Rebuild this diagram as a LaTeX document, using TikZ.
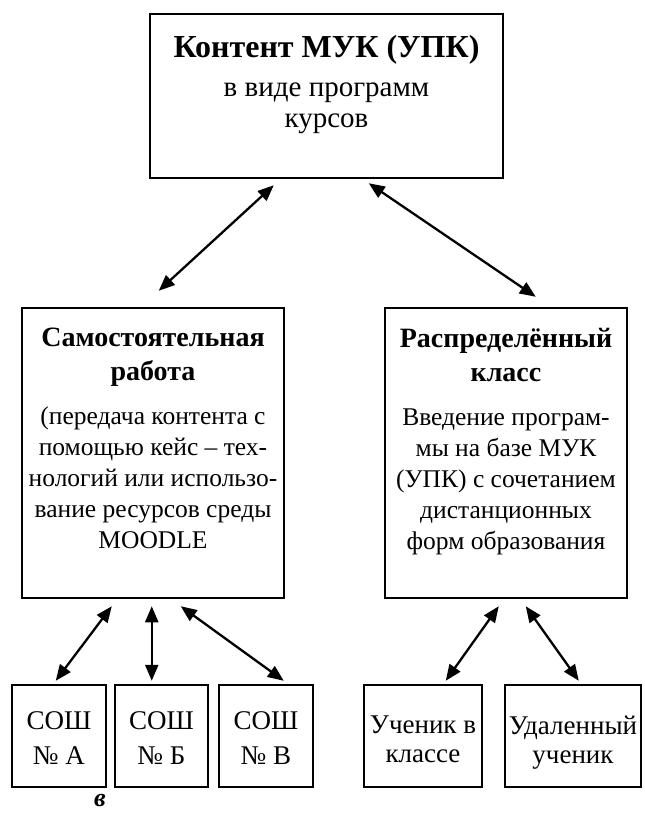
\documentclass[tikz,border=0pt]{standalone}
\usepackage{fontspec}
\setmainfont{Liberation Serif}
\usetikzlibrary{arrows.meta,positioning}
\newcommand{\hd}[1]{{\fontsize{28}{31}\selectfont\bfseries #1}}
\newcommand{\ttl}[1]{{\fontsize{32}{31}\selectfont\bfseries #1}}

\tikzset{
  box/.style={draw, line width=2.5pt, inner sep=0pt},
  txt/.style={align=center, inner sep=0pt, font=\fontsize{25.5}{31}\selectfont},
  bigtxt/.style={txt, font=\fontsize{29}{31}\selectfont},
  leaftxt/.style={txt, font=\fontsize{27}{31}\selectfont},
  link/.style={<->, line width=2.3pt, >={Triangle[length=16pt,width=13pt]}},
}

\begin{document}
\begin{tikzpicture}[x=1pt,y=-1pt]
  \useasboundingbox (0,0) rectangle (645,814);
  % top
  \node[box, minimum width=353pt, minimum height=164pt] (muk) at (326.5,96) {};
  \node[bigtxt, below=22pt of muk.north] (mukt) {\ttl{Контент МУК (УПК)}\\[8pt]в виде программ\\курсов};
  % middle
  \node[box, minimum width=262pt, minimum height=290pt] (sam) at (153,453) {};
  \node[txt, below=21pt of sam.north] (samt) {\hd{Самостоятельная}\\[3pt]\hd{работа}\\[13pt](передача контента с\\помощью кейс -- тех-\\нологий или использо-\\вание ресурсов среды\\MOODLE};
  \node[box, minimum width=242pt, minimum height=290pt] (ras) at (506,453) {};
  \node[txt, below=21pt of ras.north] (rast) {\hd{Распределённый}\\[3pt]\hd{класс}\\[13pt]Введение програм-\\мы на базе МУК\\(УПК) с сочетанием\\дистанционных\\форм образования};
  % bottom
  \node[box, minimum width=94pt, minimum height=102pt] (sha) at (59,736) {};
  \node[leaftxt, below=28pt of sha.north] (shat) {СОШ\\[4pt]№ А};
  \node[box, minimum width=93pt, minimum height=102pt] (shb) at (161.5,736) {};
  \node[leaftxt, below=28pt of shb.north] (shbt) {СОШ\\[4pt]№ Б};
  \node[box, minimum width=94pt, minimum height=102pt] (shc) at (266,736) {};
  \node[leaftxt, below=28pt of shc.north] (shct) {СОШ\\[4pt]№ В};
  \node[box, minimum width=118pt, minimum height=102pt] (uch) at (423,736) {};
  \node[leaftxt, below=32pt of uch.north] (ucht) {Ученик в\\[-2pt]классе};
  \node[box, minimum width=136pt, minimum height=102pt] (udal) at (573,736) {};
  \node[leaftxt, below=32pt of udal.north] (udalt) {Удаленный\\[-2pt]ученик};
  \node (lbl) at (100,800) {\fontsize{26}{28}\selectfont\bfseries\itshape в};
  % links
  \draw[link] ([xshift=125pt,yshift=-6pt]muk.south west) -- ([xshift=138pt,yshift=16pt]sam.north west);
  \draw[link] ([xshift=220pt,yshift=-4pt]muk.south west) -- ([xshift=152pt,yshift=10pt]ras.north west);
  \draw[link] ([xshift=91pt,yshift=-7pt]sam.south west) -- ([xshift=45pt,yshift=3pt]sha.north west);
  \draw[link] ([xshift=131pt,yshift=-7pt]sam.south west) -- ([xshift=38pt,yshift=3pt]shb.north west);
  \draw[link] ([xshift=160pt,yshift=-7pt]sam.south west) -- ([xshift=66pt,yshift=3pt]shc.north west);
  \draw[link] ([xshift=115pt,yshift=-7pt]ras.south west) -- ([xshift=83pt,yshift=3pt]uch.north west);
  \draw[link] ([xshift=142pt,yshift=-7pt]ras.south west) -- ([xshift=75pt,yshift=3pt]udal.north west);
\end{tikzpicture}
\end{document}
